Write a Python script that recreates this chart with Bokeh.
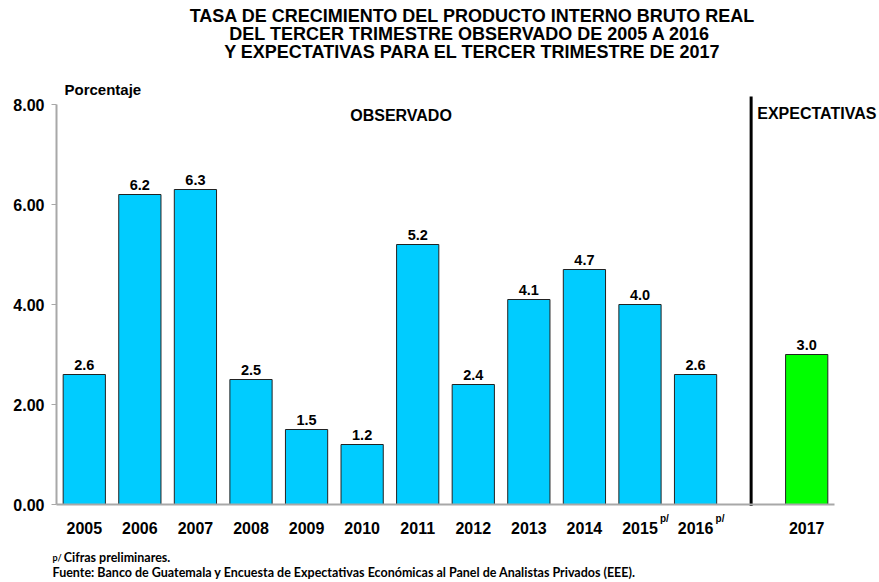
from bokeh.plotting import figure
from bokeh.models import Range1d, FixedTicker, Label, ColumnDataSource
from bokeh.embed import file_html
from bokeh.resources import INLINE
from bokeh.core.properties import value

# ---- data ----
years = ["2005", "2006", "2007", "2008", "2009", "2010", "2011", "2012",
         "2013", "2014", "2015", "2016", "2017"]
growth = [2.6, 6.2, 6.3, 2.5, 1.5, 1.2, 5.2, 2.4, 4.1, 4.7, 4.0, 2.6, 3.0]
kind = ["obs"] * 12 + ["exp"]
preliminary = ["2015", "2016"]
y_ticks = [0, 2, 4, 6, 8]

title_lines = ["TASA DE CRECIMIENTO DEL PRODUCTO INTERNO BRUTO REAL",
               "DEL TERCER TRIMESTRE OBSERVADO DE  2005 A 2016",
               "Y EXPECTATIVAS PARA EL TERCER TRIMESTRE DE 2017"]

FONT = "Liberation Sans"
NOTE_FONT = "Lato"

# positions: observed years in consecutive slots, one empty slot, then expectation
pos = []
slot = 0
for k in kind:
    if k == "exp":
        slot += 1
    pos.append(slot)
    slot += 1
sep_x = pos[-1] - 1

colors = ["#00CCFF" if k == "obs" else "#00FF00" for k in kind]
src = ColumnDataSource(dict(x=pos, top=growth, color=colors,
                            lbl=["%.1f" % v for v in growth]))

p = figure(width=879, height=582, output_backend="svg", toolbar_location=None,
           x_range=Range1d(-1.5077, 14.31), y_range=Range1d(-1.56, 10.08),
           min_border=0)
p.outline_line_color = None
p.grid.grid_line_color = None
p.background_fill_color = "white"

p.vbar(x="x", top="top", width=0.76, bottom=0, source=src, fill_color="color",
       line_color="#222222", line_width=1)
p.text(x="x", y="top", text="lbl", source=src, text_align="center",
       text_baseline="bottom", y_offset=-5, text_font=value(FONT),
       text_font_style="bold", text_font_size="14.5px", text_color="black")

# separator line
p.segment(x0=[sep_x], y0=[-0.03], x1=[sep_x], y1=[8.16], line_color="black",
          line_width=3)

# axes
xa = p.xaxis[0]
xa.fixed_location = 0
xa.bounds = (-0.5, pos[-1] + 0.5)
xa.ticker = FixedTicker(ticks=pos)
xa.major_label_overrides = {pp: y for pp, y in zip(pos, years)}
xa.major_tick_line_color = None
xa.minor_tick_line_color = None
xa.axis_line_color = "#a8a8a8"
xa.axis_line_width = 2
xa.major_label_text_font = FONT
xa.major_label_text_font_style = "bold"
xa.major_label_text_font_size = "16px"
xa.major_label_text_color = "black"
xa.major_label_standoff = 11

ya = p.yaxis[0]
ya.fixed_location = -0.5
ya.ticker = FixedTicker(ticks=y_ticks)
ya.bounds = (0, 8)
ya.major_label_overrides = {t: "%.2f" % t for t in y_ticks}
ya.minor_tick_line_color = None
ya.major_tick_in = 0
ya.major_tick_out = 5
ya.major_tick_line_color = "#a8a8a8"
ya.axis_line_color = "#a8a8a8"
ya.axis_line_width = 2
ya.major_label_text_font = FONT
ya.major_label_text_font_style = "bold"
ya.major_label_text_font_size = "16px"
ya.major_label_text_color = "black"
ya.major_label_standoff = 7

def lab(x, y, text, size, align="left", font=FONT, baseline="middle"):
    p.add_layout(Label(x=x, y=y, text=text, text_font=font, text_font_style="bold",
                       text_font_size=size, text_align=align,
                       text_baseline=baseline, text_color="black"))

for i, t in enumerate(title_lines):
    lab(6.986, 9.78 - i * 0.36, t, "18px", align="center")

lab(-0.356, 8.3, "Porcentaje", "15px")
lab(5.7, 7.78, "OBSERVADO", "16px", align="center")
lab(12.11, 7.82, "EXPECTATIVAS", "16px")

for y in preliminary:
    i = years.index(y)
    lab(pos[i] + 0.36, -0.27, "p/", "10px")

lab(-0.572, -1.05, "p/", "9px", font=NOTE_FONT)
lab(-0.37, -1.06, "Cifras preliminares.", "12.5px", font=NOTE_FONT)
lab(-0.572, -1.36,
    "Fuente:  Banco de Guatemala y Encuesta de Expectativas Económicas al Panel de Analistas Privados (EEE).",
    "12.5px", font=NOTE_FONT)

open("out.html", "w").write(file_html(p, INLINE))
